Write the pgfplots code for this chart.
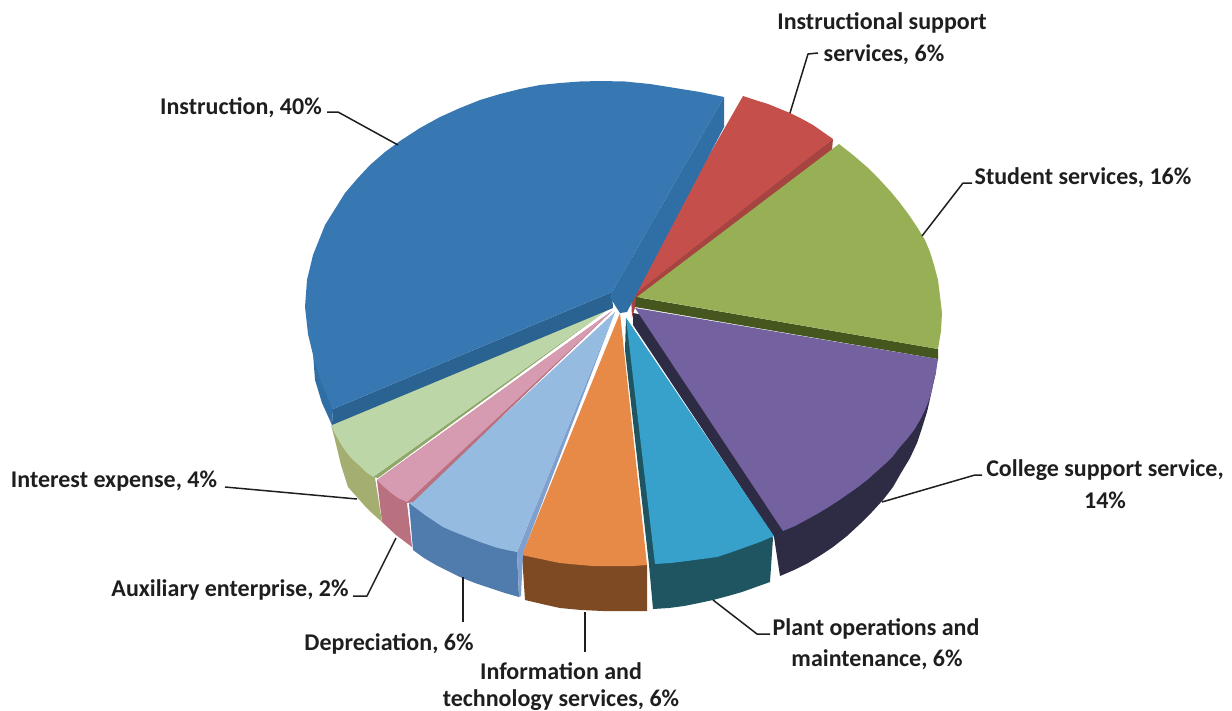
\documentclass[border=0pt]{standalone}
\usepackage{pgfplots}
\pgfplotsset{compat=1.18}
\usepackage{fontspec}
\setmainfont{Carlito}
\definecolor{blueT}{HTML}{3778B3}\definecolor{blueW}{HTML}{2F6FA6}\definecolor{blueF}{HTML}{2A6292}
\definecolor{redT}{HTML}{C5504B}\definecolor{redW}{HTML}{A54440}
\definecolor{grnT}{HTML}{98B055}\definecolor{grnW}{HTML}{46561F}
\definecolor{purT}{HTML}{7461A0}\definecolor{purW}{HTML}{2E2C45}
\definecolor{cyaT}{HTML}{37A0CB}\definecolor{cyaW}{HTML}{1E5560}
\definecolor{oraT}{HTML}{E88A47}\definecolor{oraW}{HTML}{7E4A24}
\definecolor{lblT}{HTML}{96BBE0}\definecolor{lblW}{HTML}{4F7BAD}\definecolor{lblF}{HTML}{7F9FCF}
\definecolor{pnkT}{HTML}{D69BB0}\definecolor{pnkW}{HTML}{B9707F}
\definecolor{lgrT}{HTML}{BDD6A8}\definecolor{lgrW}{HTML}{A3AE70}\definecolor{lgrF}{HTML}{8FA86A}
\definecolor{txt}{HTML}{1E1E1E}
\begin{document}
\begin{tikzpicture}
\begin{axis}[scale only axis,width=1232pt,height=710pt,xmin=0,xmax=1232,ymin=0,ymax=710,y dir=reverse,hide axis,clip=false,
 every axis plot/.append style={line join=round}]
\addplot[draw=none] coordinates {(0,0)(1232,710)};
% red slice
\addplot[fill=redW,draw=none] coordinates {(833,139)(832,150)(637,300)(632,318)(631,295)(633,288)};
\addplot[fill=redT,draw=none] coordinates {(633,288)(743,96)(755,100)(768,104)(790,113)(802,119)(813,125)(823,132)(833,139)(631,297)};
% green slice
\addplot[fill=grnW,draw=none] coordinates {(636,297)(938,349)(938,359)(635,307)};
\addplot[fill=grnT,draw=none] coordinates {(637,297)(839,144)(853,155)(867,167)(880,180)(891,192)(900,203)(909,215)(917,227)(925,240)(930,252)(934,265)(938,280)(940,296)(942,313)(941,331)(938,349)};
% purple slice
\addplot[fill=purW,draw=none] coordinates {(936,372)(933,385)(930,399)(927,412)(922,428)(917,443)(910,458)(901,473)(893,487)(883,500)(872,512)(860,524)(847,536)(833,547)(821,555)(808,563)(794,570)(780,576)(774,537)(633,325)(633,313)};
\addplot[fill=purT,draw=none] coordinates {(635,308)(938,359)(936,372)(934,380)(932,390)(929,400)(925,410)(920,420)(914,430)(907,439)(900,447)(893,456)(885,464)(876,472)(867,480)(858,487)(848,494)(838,501)(827,508)(817,514)(806,520)(795,526)(783,531)};
% plant slice
\addplot[fill=cyaW,draw=none] coordinates {(626,318)(625,350)(649,565)(653,609)(669,608)(684,606)(699,603)(713,600)(728,596)(742,592)(756,587)(770,582)(773,538)};
\addplot[fill=cyaT,draw=none] coordinates {(626,318)(774,536)(760,542)(746,547)(732,552)(717,557)(702,559)(687,561)(671,563)(655,564)};
% orange slice
\addplot[fill=oraW,draw=none] coordinates {(522,555)(525,600)(542,604)(560,608)(581,610)(603,611)(625,611)(647,611)(647,565)};
\addplot[fill=oraT,draw=none] coordinates {(620,313)(647,565)(633,566)(620,566)(607,566)(593,566)(581,565)(570,564)(560,563)(550,561)(536,558)(522,555)};
% light blue slice
\addplot[fill=lblW,draw=none] coordinates {(409,503)(413,550)(424,558)(436,565)(448,571)(460,577)(475,583)(490,588)(505,593)(519,597)(517,552)};
\addplot[fill=lblF,draw=none] coordinates {(615,312)(523,553)(521,596)(519,597)(517,552)};
\addplot[fill=lblT,draw=none] coordinates {(615,312)(517,552)(507,550)(498,548)(480,542)(462,535)(452,531)(443,527)(434,521)(425,515)(417,509)(409,503)};
% pink slice
\addplot[fill=pnkW,draw=none] coordinates {(377,480)(382,522)(396,535)(412,547)(407,503)(413,502)(612,311)};
\addplot[fill=pnkT,draw=none] coordinates {(612,311)(407,502)(398,498)(390,492)(383,486)(377,480)};
% interest slice
\addplot[fill=lgrW,draw=none] coordinates {(331,425)(335,440)(341,465)(348,487)(356,496)(364,505)(373,514)(382,522)(375,478)};
\addplot[fill=lgrF,draw=none] coordinates {(610,308)(378,478)(373,477)};
\addplot[fill=lgrT,draw=none] coordinates {(610,308)(373,477)(366,472)(360,466)(353,460)(347,453)(342,446)(338,439)(334,432)(331,425)};
% instruction slice
\addplot[fill=blueW,draw=none] coordinates {(313,353)(315,380)(322,403)(332,425)(333,409)};
\addplot[fill=blueF,draw=none] coordinates {(612,292)(333,409)(332,425)(613,308)};
\addplot[fill=blueT,draw=none] coordinates {(612,292)(333,409)(328,398)(321,382)(314,359)(308,334)(305,307)(307,280)(313,255)(325,225)(345,193)(357,179)(370,165)(385,152)(400,141)(420,128)(440,117)(460,108)(480,100)(500,94)(520,89)(540,85)(560,83)(580,81.5)(600,81)(625,81.5)(650,84)(675,88)(700,92)(724,97)};
\addplot[fill=blueW,draw=none] coordinates {(724,97)(724,127)(627,312)(620,313)(616,307)(610,297)(612,292)};
% leader lines
\addplot[txt,line width=1.5pt] coordinates {(327,112)(338,112)(398,145)};
\addplot[txt,line width=1.5pt] coordinates {(790,113)(808,54)(818,53)};
\addplot[txt,line width=1.5pt] coordinates {(922,236)(963,183)(972,183)};
\addplot[txt,line width=1.5pt] coordinates {(882,502)(975,475)(982,475)};
\addplot[txt,line width=1.5pt] coordinates {(713,600)(757,634)(770,634)};
\addplot[txt,line width=1.5pt] coordinates {(585,612)(585,652)};
\addplot[txt,line width=1.5pt] coordinates {(463,577)(463,622)};
\addplot[txt,line width=1.5pt] coordinates {(396,538)(367,596)(353,596)};
\addplot[txt,line width=1.5pt] coordinates {(225,487)(357,499)};
% labels
\begin{scope}[every node/.style={font=\fontsize{24}{28}\selectfont\bfseries,text=txt,inner sep=0pt,anchor=center}]
\node at (axis cs:241,108) {Instruction, 40\%};
\node at (axis cs:882,23) {Instructional support};
\node at (axis cs:884,55) {services, 6\%};
\node at (axis cs:1083,178) {Student services, 16\%};
\node at (axis cs:1105,470) {College support service,};
\node at (axis cs:1105,500) {14\%};
\node at (axis cs:876,629) {Plant operations and};
\node at (axis cs:877,660) {maintenance, 6\%};
\node at (axis cs:561,671) {Information and};
\node at (axis cs:561,700) {technology services, 6\%};
\node at (axis cs:389,644) {Depreciation, 6\%};
\node at (axis cs:230,590) {Auxiliary enterprise, 2\%};
\node at (axis cs:114,481) {Interest expense, 4\%};
\end{scope}
\end{axis}
\end{tikzpicture}
\end{document}
